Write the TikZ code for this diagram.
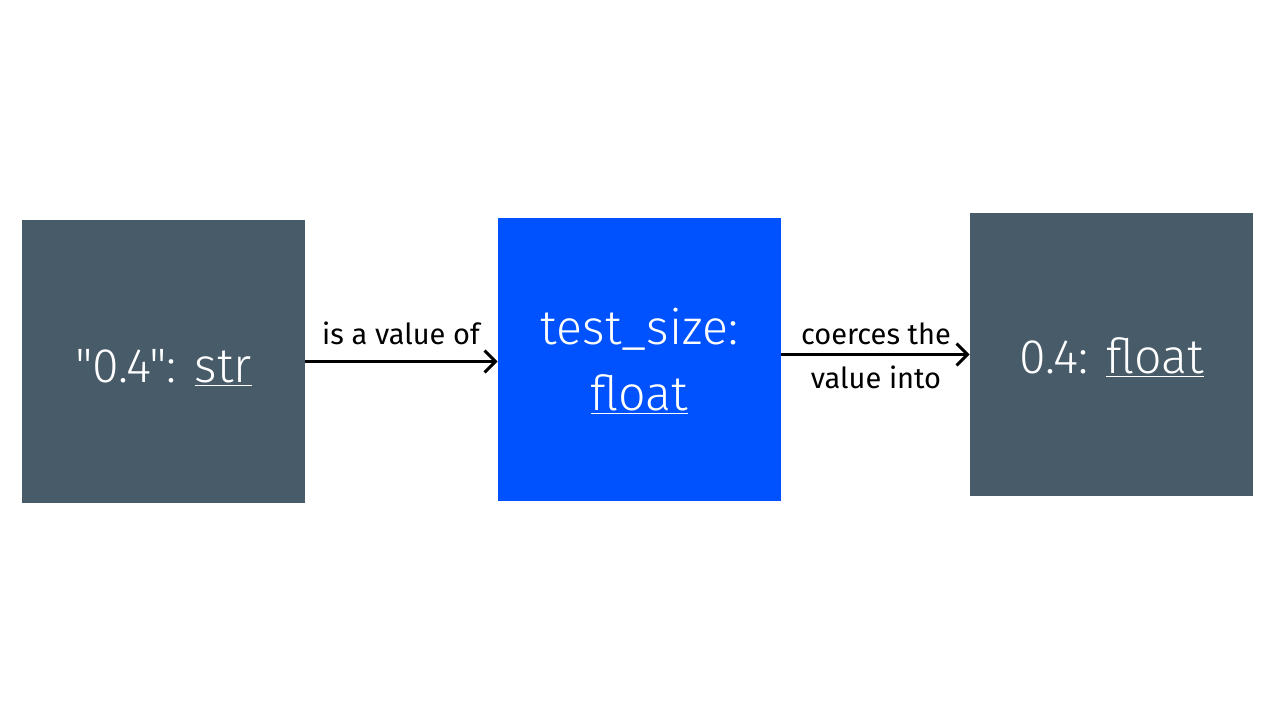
\documentclass[tikz,border=0pt]{standalone}
\usepackage{fontspec}
\setmainfont{Fira Sans}
\newfontfamily\lightfont{Fira Sans Light}
\usetikzlibrary{arrows.meta}
\definecolor{slate}{HTML}{475B69}
\definecolor{brightblue}{HTML}{0052FF}
% move the ink of a box down, keeping its size
\newcommand{\lowered}[2]{\raisebox{-#1}[\height][\depth]{#2}}

\begin{document}
\begin{tikzpicture}[x=0.02cm, y=-0.02cm,
	box/.style={minimum width=5.66cm, minimum height=5.66cm, inner sep=0pt, text=white, align=center, font=\lightfont\fontsize{27.5}{38}\selectfont},
	lbl/.style={font=\fontsize{16.5}{25}\selectfont, align=center},
	link/.style={-{Straight Barb[length=2.2mm, width=4.4mm]}, line width=1.7pt}]
	% canvas
	\useasboundingbox (0,0) rectangle (1280,720);

	% boxes
	\node[box, fill=slate] (str) at (163.5,361.5) {\lowered{3.6pt}{"0.4": \underline{str}}};
	\node[box, fill=brightblue] (field) at (639.5,359.5) {\lowered{2.2pt}{test\_size:}\\[1.5pt]\underline{float}};
	\node[box, fill=slate] (flt) at (1111.5,354.5) {\lowered{1.8pt}{0.4: \underline{float}}};

	% arrows
	\draw[link] (str.east) -- (str.east -| field.west);
	\draw[link] (field.east |- flt.west) -- (flt.west);

	% labels
	\node[lbl] (isval) at (401,333) {is a value of};
	\node[lbl] (coerce) at (876,356) {coerces the\\value into};
\end{tikzpicture}
\end{document}
